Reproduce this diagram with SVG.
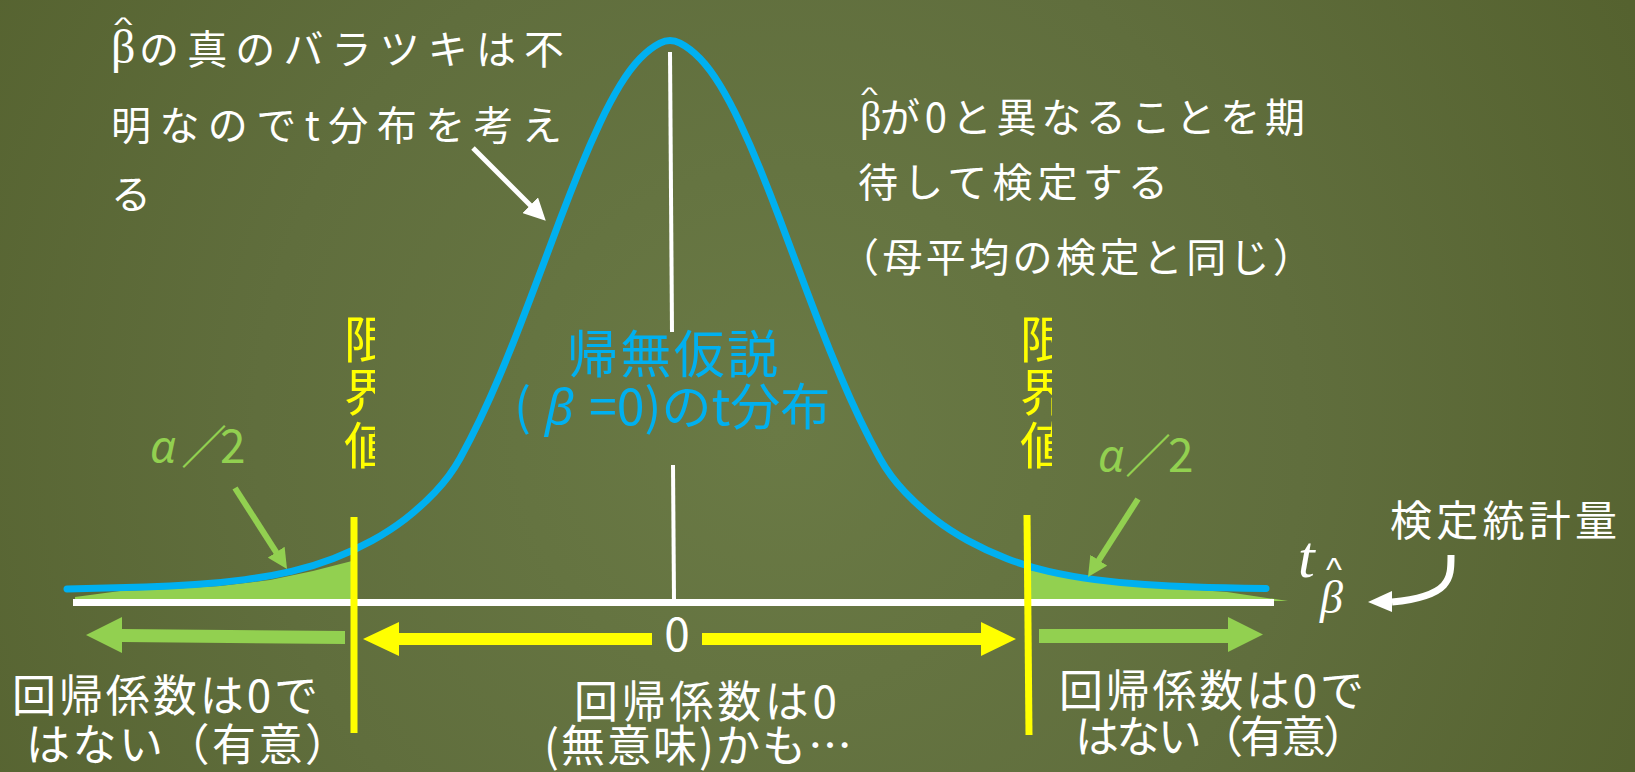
<svg xmlns="http://www.w3.org/2000/svg" width="1635" height="772" viewBox="0 0 1635 772">
  <style>
    .jp { font-family: 'Noto Sans CJK JP', 'Noto Sans', sans-serif; }
    .serif { font-family: 'Liberation Serif', serif; }
    .sans { font-family: 'Liberation Sans', sans-serif; }
    .greek { font-family: 'Noto Sans', 'DejaVu Sans', sans-serif; font-style: italic; }
    .w { fill: #ffffff; }
    .blue { fill: #00b0f0; }
    .green { fill: #92d050; }
    .yellow { fill: #ffff00; }
  </style>
  <defs>
    <radialGradient id="bg" cx="780" cy="430" r="950" gradientUnits="userSpaceOnUse">
      <stop offset="0" stop-color="#6a7a45"/>
      <stop offset="0.55" stop-color="#606e3d"/>
      <stop offset="1" stop-color="#55622f"/>
    </radialGradient>
    <marker id="ahW" markerUnits="userSpaceOnUse" markerWidth="22" markerHeight="22" viewBox="0 0 20 20" refX="10" refY="10" orient="auto">
      <path d="M0,0 L20,10 L0,20 z" fill="#ffffff"/>
    </marker>
    <marker id="ahG" markerUnits="userSpaceOnUse" markerWidth="20" markerHeight="20" viewBox="0 0 20 20" refX="10" refY="10" orient="auto">
      <path d="M0,0 L20,10 L0,20 z" fill="#92d050"/>
    </marker>
    <clipPath id="clipL"><rect x="330" y="300" width="45" height="180"/></clipPath>
    <clipPath id="clipR"><rect x="1005" y="300" width="47" height="180"/></clipPath>
  </defs>

  <rect x="0" y="0" width="1635" height="772" fill="url(#bg)"/>

  <!-- rejection region fills -->
  <g id="tail-left">
    <polygon class="green" points="75,597 120,591 170,589 220,586 270,580 313,571 352,561 352,600 75,600"/>
  </g>
  <g id="tail-right">
    <polygon class="green" points="1030,570 1070,578 1120,584 1170,588 1227,592 1288,601 1030,602"/>
  </g>

  <!-- axis -->
  <g id="axis">
    <line x1="73" y1="602.5" x2="1274" y2="602.5" stroke="#ffffff" stroke-width="7"/>
    <line x1="670" y1="52" x2="672" y2="332" stroke="#ffffff" stroke-width="4"/>
    <line x1="673" y1="465" x2="674" y2="600" stroke="#ffffff" stroke-width="4"/>
  </g>

  <!-- t distribution curve -->
  <g id="t-curve">
    <path fill="none" stroke="#00b0f0" stroke-width="7" stroke-linecap="round" d="M67,589 Q120,587.8 145,587 Q170,586.2 195,584.55 Q220,582.9 245,579.6 Q270,576.3 291.5,571.35 Q313,566.4 333.5,558.45 Q354,550.5 372,540.6 Q390,530.7 405,519.2 Q420,507.7 435,492.05 Q450,476.4 460,458.45 Q470,440.5 480,419.55 Q490,398.6 500,374.9 Q510,351.2 520,325.45 Q530,299.7 540,273 Q550,246.3 560,219.85 Q570,193.4 580,168.75 Q590,144.1 600,122.9 Q610,101.7 620,85.25 Q630,68.8 640,58.45 Q650,48.1 660,43.05 Q670,38 680,43.05 Q690,48.1 700,58.45 Q710,68.8 720,85.25 Q730,101.7 740,122.9 Q750,144.1 760,168.75 Q770,193.4 780,219.85 Q790,246.3 800,273 Q810,299.7 820,325.45 Q830,351.2 840,374.9 Q850,398.6 860,419.55 Q870,440.5 880,458.45 Q890,476.4 905,492.05 Q920,507.7 935,519.2 Q950,530.7 968,540.6 Q986,550.5 1006.5,558.45 Q1027,566.4 1048.5,571.35 Q1070,576.3 1095,579.6 Q1120,582.9 1145,584.55 Q1170,586.2 1195,587 Q1220,587.8 1266,588.5"/>
  </g>

  <!-- critical value lines -->
  <g id="critical-left">
    <line x1="354" y1="517" x2="354" y2="733" stroke="#ffff00" stroke-width="7"/>
    <text class="jp yellow" font-size="50" clip-path="url(#clipL)"><tspan x="344" y="358">限</tspan><tspan x="344" y="411">界</tspan><tspan x="344" y="464">値</tspan></text>
  </g>
  <g id="critical-right">
    <line x1="1027" y1="515" x2="1029" y2="735" stroke="#ffff00" stroke-width="7"/>
    <text class="jp yellow" font-size="50" clip-path="url(#clipR)"><tspan x="1020" y="358">限</tspan><tspan x="1020" y="411">界</tspan><tspan x="1020" y="464">値</tspan></text>
  </g>

  <!-- connectors -->
  <g id="connectors">
    <line x1="473" y1="148" x2="538" y2="213" stroke="#ffffff" stroke-width="5" marker-end="url(#ahW)"/>
    <line x1="235" y1="488" x2="281.6" y2="560.6" stroke="#92d050" stroke-width="6" marker-end="url(#ahG)"/>
    <line x1="1138" y1="499" x2="1093.4" y2="568.6" stroke="#92d050" stroke-width="6" marker-end="url(#ahG)"/>
    <path d="M1451,555 C1451,578 1452,596 1392,602" fill="none" stroke="#ffffff" stroke-width="7"/>
    <polygon points="1368,602 1392,591 1392,612" fill="#ffffff"/>
    <polygon class="green" points="86,635 122,617 122,629 345,631 345,644 122,642 122,653"/>
    <polygon class="yellow" points="363,639 399,622 399,633 652,633 652,645 399,645 399,656"/>
    <polygon class="yellow" points="702,633 981,633 981,622 1016,639 981,656 981,645 702,645"/>
    <polygon class="green" points="1039,629 1228,629 1228,617 1263,634.5 1228,652 1228,643 1039,643"/>
  </g>

  <!-- top-left note -->
  <g id="note-left">
    <text class="serif w" x="111" y="63" font-size="48">β</text>
    <text class="sans w" font-size="36" transform="translate(114,32) scale(1.1,0.55)">^</text>
    <text class="jp w" x="139" y="64" font-size="40" textLength="425" lengthAdjust="spacing">の真のバラツキは不</text>
    <text class="jp w" x="111" y="140" font-size="40" textLength="451" lengthAdjust="spacing">明なのでt分布を考え</text>
    <text class="jp w" x="111" y="209" font-size="40">る</text>
  </g>

  <!-- top-right note -->
  <g id="note-right">
    <text class="serif w" x="860" y="131" font-size="42">β</text>
    <text class="sans w" font-size="36" transform="translate(861,102) scale(1.0,0.55)">^</text>
    <text class="jp w" x="880" y="132" font-size="40" textLength="425" lengthAdjust="spacing">が0と異なることを期</text>
    <text class="jp w" x="858" y="197" font-size="40" textLength="310" lengthAdjust="spacing">待して検定する</text>
    <text class="jp w" x="839" y="272" font-size="40" textLength="474" lengthAdjust="spacing">（母平均の検定と同じ）</text>
  </g>

  <!-- null hypothesis label -->
  <g id="null-label">
    <text class="jp blue" x="567" y="373" font-size="51" textLength="211" lengthAdjust="spacing">帰無仮説</text>
    <text class="jp blue" y="425" font-size="50"><tspan x="514">(</tspan><tspan x="545" class="greek">β</tspan><tspan x="589">=0)のt分布</tspan></text>
  </g>

  <!-- alpha/2 labels -->
  <g id="alpha-left">
    <text class="jp green" y="463" font-size="46"><tspan x="150" class="greek">α</tspan><tspan x="181">／</tspan><tspan x="220">2</tspan></text>
  </g>
  <g id="alpha-right">
    <text class="jp green" y="472" font-size="46"><tspan x="1098" class="greek">α</tspan><tspan x="1125">／</tspan><tspan x="1168">2</tspan></text>
  </g>

  <!-- test statistic -->
  <g id="statistic">
    <text class="serif w" x="1298" y="577" font-size="60" font-style="italic">t</text>
    <text class="sans w" x="1326" y="581" font-size="34">^</text>
    <text class="serif w" x="1320" y="613" font-size="46" font-style="italic">β</text>
    <text class="jp w" x="1390" y="536" font-size="42" textLength="227" lengthAdjust="spacing">検定統計量</text>
  </g>

  <!-- zero label -->
  <g id="zero-label">
    <text class="jp w" x="677" y="651" font-size="46" text-anchor="middle">0</text>
  </g>

  <!-- bottom region labels -->
  <g id="label-left">
    <text class="jp w" x="12" y="712" font-size="44" textLength="306" lengthAdjust="spacing">回帰係数は0で</text>
    <text class="jp w" x="26" y="761" font-size="44" textLength="323" lengthAdjust="spacing">はない（有意）</text>
  </g>
  <g id="label-center">
    <text class="jp w" x="574" y="718" font-size="44" textLength="263" lengthAdjust="spacing">回帰係数は0</text>
    <text class="jp w" x="544" y="762" font-size="44" textLength="308" lengthAdjust="spacing">(無意味)かも…</text>
  </g>
  <g id="label-right">
    <text class="jp w" x="1059" y="707" font-size="44" textLength="305" lengthAdjust="spacing">回帰係数は0で</text>
    <text class="jp w" x="1075" y="753" font-size="44" textLength="292" lengthAdjust="spacing">はない（有意）</text>
  </g>
</svg>
